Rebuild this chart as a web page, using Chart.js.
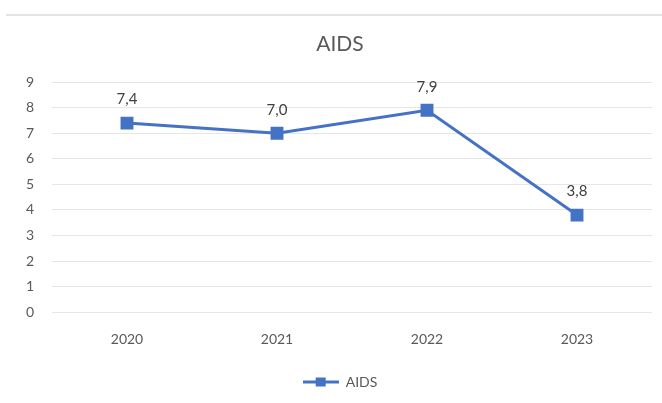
<!DOCTYPE html>
<html>
<head>
<meta charset="utf-8">
<script src="https://cdn.jsdelivr.net/npm/chart.js@4"></script>
<style>
  html, body { margin: 0; padding: 0; background: #fff; }
  #wrap { width: 662px; height: 403px; }
</style>
</head>
<body>
<div id="wrap"><canvas id="grafico" width="662" height="403"></canvas></div>
<script>
// Dados do gráfico
const anos = ['2020', '2021', '2022', '2023'];
const valores = [7.4, 7.0, 7.9, 3.8];
const rotulosY = [0, 1, 2, 3, 4, 5, 6, 7, 8, 9];

const azul = '#4472C4';
const cinza = '#595959';
const fonte = 'Lato, "Open Sans", sans-serif';

// ícone da legenda: linha com quadrado no meio
function iconeLegenda() {
    const c = document.createElement('canvas');
    c.width = 36; c.height = 12;
    const g = c.getContext('2d');
    g.strokeStyle = azul;
    g.lineWidth = 3;
    g.beginPath(); g.moveTo(0, 6); g.lineTo(36, 6); g.stroke();
    g.fillStyle = azul;
    g.fillRect(13, 1.5, 10, 9);
    return c;
}

// rótulos de dados acima dos pontos
const rotulosDados = {
    id: 'rotulosDados',
    afterDatasetsDraw(chart) {
        const ctx = chart.ctx;
        const meta = chart.getDatasetMeta(0);
        ctx.save();
        ctx.font = '15px ' + fonte;
        ctx.fillStyle = '#404040';
        ctx.textAlign = 'center';
        ctx.textBaseline = 'bottom';
        meta.data.forEach((p, i) => {
            ctx.fillText(valores[i].toFixed(1).replace('.', ','), p.x, p.y - 16);
        });
        ctx.restore();
    }
};

// linha cinza no topo + área do eixo y até a borda (evita cortar os rótulos)
const linhaTopo = {
    id: 'linhaTopo',
    afterLayout(chart) {
        chart.scales.y.left = 0;
    },
    beforeDraw(chart) {
        const ctx = chart.ctx;
        ctx.save();
        ctx.strokeStyle = '#e3e3e3';
        ctx.lineWidth = 2;
        ctx.beginPath(); ctx.moveTo(6, 15); ctx.lineTo(662, 15); ctx.stroke();
        ctx.restore();
    }
};

new Chart(document.getElementById('grafico'), {
    type: 'line',
    data: {
        labels: anos,
        datasets: [{
            label: 'AIDS',
            data: valores,
            borderColor: azul,
            backgroundColor: azul,
            borderWidth: 3,
            pointStyle: 'rect',
            pointRadius: 7,
            pointHoverRadius: 7,
            tension: 0
        }]
    },
    options: {
        responsive: false,
        animation: false,
        layout: { padding: { left: 28, right: 10, top: 0, bottom: 4 } },
        plugins: {
            title: {
                display: true,
                text: 'AIDS',
                color: cinza,
                font: { family: fonte, size: 21, weight: 'normal' },
                padding: { top: 32, bottom: 25 }
            },
            legend: {
                position: 'bottom',
                labels: {
                    usePointStyle: true,
                    pointStyleWidth: 36,
                    padding: 16,
                    color: cinza,
                    font: { family: fonte, size: 14 },
                    generateLabels: () => [{
                        text: 'AIDS',
                        pointStyle: iconeLegenda(),
                        fontColor: cinza,
                        lineWidth: 0,
                        hidden: false,
                        datasetIndex: 0
                    }]
                }
            },
            tooltip: { enabled: false }
        },
        scales: {
            x: {
                offset: true,
                grid: { display: false },
                border: { display: false },
                ticks: { color: cinza, font: { family: fonte, size: 14 }, padding: 11 }
            },
            y: {
                min: 0,
                max: 9,
                afterBuildTicks: s => { s.ticks = rotulosY.map(v => ({ value: v })); },
                afterFit: s => { s.width = 24; },
                grid: { color: '#e6e6e6', drawTicks: false },
                border: { display: false },
                ticks: { color: cinza, font: { family: fonte, size: 14 }, padding: 18 }
            }
        }
    },
    plugins: [rotulosDados, linhaTopo]
});
</script>
</body>
</html>
